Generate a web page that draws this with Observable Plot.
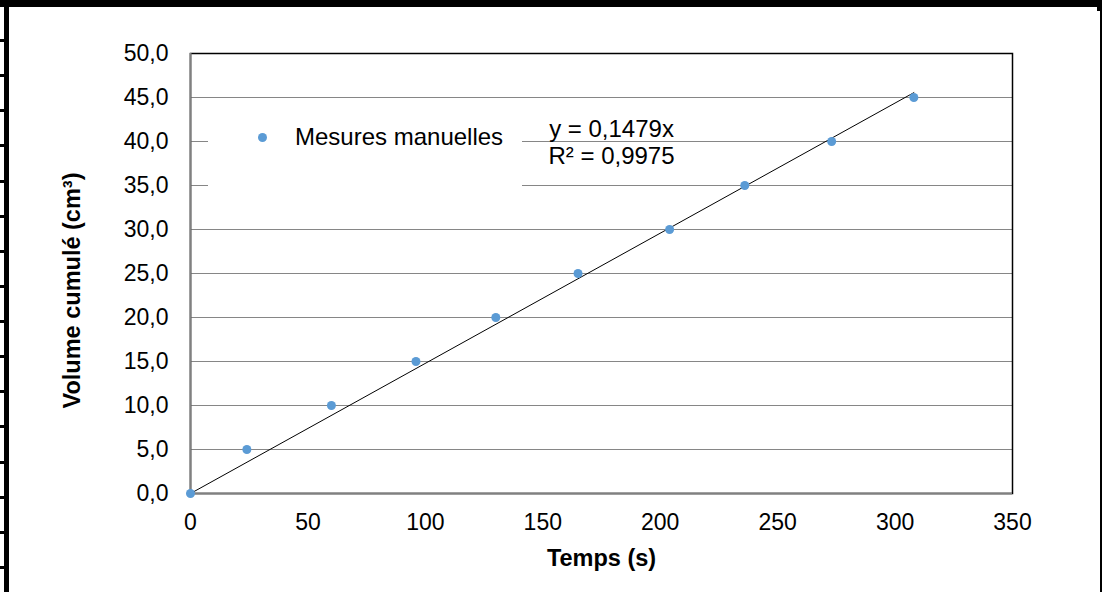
<!DOCTYPE html>
<html>
<head>
<meta charset="utf-8">
<script src="https://cdn.jsdelivr.net/npm/d3@7"></script>
<script src="https://cdn.jsdelivr.net/npm/@observablehq/plot@0.6"></script>
<style>
  html, body { margin: 0; padding: 0; background: white; }
  #wrap { position: relative; width: 1102px; height: 592px; overflow: hidden; font-family: "Liberation Sans", Arial, sans-serif; }
  .deco { position: absolute; background: black; }
  #legend { position: absolute; left: 208px; top: 103px; width: 314px; height: 92px; background: white; }
  #legend .dot { position: absolute; left: 49.5px; top: 29.5px; width: 9px; height: 9px; border-radius: 50%; background: #5B9BD5; }
  #legend .lbl { position: absolute; left: 87px; top: 22px; font-size: 24px; line-height: 24px; color: black; white-space: nowrap; }
</style>
</head>
<body>
<div id="wrap"></div>
<script>
// ---- data ----
const temps   = [0, 24, 60, 96, 130, 165, 204, 236, 273, 308];
const volumes = [0, 5, 10, 15, 20, 25, 30, 35, 40, 45];
const xTicks  = [0, 50, 100, 150, 200, 250, 300, 350];
const yTicks  = [0, 5, 10, 15, 20, 25, 30, 35, 40, 45, 50];
const slope   = 0.1479;
const equationLines = ["y = 0,1479x", "R² = 0,9975"];
const seriesName = "Mesures manuelles";
const xLabel = "Temps (s)";
const yLabel = "Volume cumulé (cm³)";

const data = temps.map((t, i) => ({t, v: volumes[i]}));
const tMax = d3.max(temps);
const trend = [{t: 0, v: 0}, {t: tMax, v: slope * tMax}];

const chart = Plot.plot({
  width: 1102,
  height: 592,
  marginLeft: 190,
  marginRight: 90,
  marginTop: 53,
  marginBottom: 99,
  style: {fontFamily: "'Liberation Sans', Arial, sans-serif", fontSize: "23px", color: "black", background: "white", overflow: "visible"},
  x: {domain: [0, 350], ticks: xTicks, tickFormat: d => String(d), tickSize: 0, tickPadding: 20, label: null},
  y: {domain: [0, 50], ticks: yTicks, tickFormat: d => d.toFixed(1).replace(".", ","), tickSize: 0, tickPadding: 22, label: null},
  marks: [
    Plot.gridY(yTicks, {stroke: "#868686", strokeOpacity: 1, strokeWidth: 1}),
    Plot.frame({stroke: "black", strokeWidth: 1.5}),
    Plot.ruleX([0], {stroke: "#808080", strokeWidth: 2}),
    Plot.ruleY([0], {stroke: "#808080", strokeWidth: 2}),
    Plot.line(trend, {x: "t", y: "v", stroke: "black", strokeWidth: 1}),
    Plot.dot(data, {x: "t", y: "v", r: 4.5, fill: "#5B9BD5"}),
    Plot.text([equationLines.join("\n")], {frameAnchor: "top-left", text: d => d, textAnchor: "middle", lineAnchor: "top", lineHeight: 1.125, fontSize: 24, dx: 421, dy: 64}),
    Plot.text([xLabel], {frameAnchor: "bottom", text: d => d, textAnchor: "middle", lineAnchor: "middle", fontWeight: "bold", fontSize: 23.5, dy: 65}),
    Plot.text([yLabel], {frameAnchor: "left", text: d => d, rotate: -90, textAnchor: "middle", lineAnchor: "middle", fontWeight: "bold", fontSize: 23.5, dx: -118, dy: 17})
  ]
});

const wrap = document.getElementById("wrap");
wrap.appendChild(chart);

// legend
const legend = document.createElement("div");
legend.id = "legend";
legend.innerHTML = `<div class="dot"></div><div class="lbl"></div>`;
legend.querySelector(".lbl").textContent = seriesName;
wrap.appendChild(legend);

// page frame decoration
function deco(css) { const d = document.createElement("div"); d.className = "deco"; Object.assign(d.style, css); wrap.appendChild(d); }
deco({left: "0px", top: "0px", width: "1100px", height: "7px"});
deco({left: "4px", top: "0px", width: "5px", height: "592px"});
deco({left: "1100px", top: "0px", width: "2px", height: "592px"});
deco({left: "1097px", top: "0px", width: "4px", height: "11px"});
deco({left: "0px", top: "39px", width: "5px", height: "553px", background: "repeating-linear-gradient(to bottom, black 0px, black 3px, transparent 3px, transparent 35.13px)"});
</script>
</body>
</html>
